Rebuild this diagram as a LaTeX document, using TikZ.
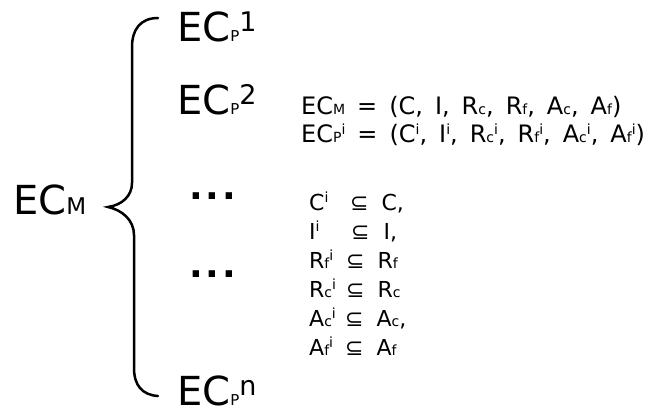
\documentclass[tikz,border=0pt]{standalone}
\usepackage{fontspec}
\setmainfont{DejaVu Sans}
% size helpers: small letters sitting on the baseline, raised superscripts
\newcommand\fs[2]{{\fontsize{#1}{#1}\selectfont #2}}
\newcommand\lo[1]{\fs{14}{#1}}
\newcommand\hi[1]{\raisebox{8pt}{\fs{14}{#1}}}
\newcommand\biglo[1]{\fs{15}{#1}}
\newcommand\bighi[1]{\raisebox{10pt}{\fs{27}{#1}}}
\newcommand\widespaces{\spaceskip=12pt\relax}
% left-hand side of a subset line, padded to a fixed width
\newcommand\lhs[2]{\makebox[#1][l]{#2}}
\tikzset{
  big/.style={anchor=base west, inner sep=0pt, font=\fontsize{40}{40}\selectfont},
  eq/.style={anchor=base west, inner sep=0pt, font=\fontsize{24}{24}\selectfont\widespaces},
  rel/.style={anchor=base west, inner sep=0pt, font=\fontsize{22}{22}\selectfont},
  dots/.style={anchor=base west, inner sep=0pt, font=\fontsize{36}{36}\selectfont\bfseries},
  brace/.style={line width=2.5pt, line cap=round},
}
\begin{document}
\begin{tikzpicture}[x=1pt, y=-1pt]
  \useasboundingbox (0,0) rectangle (664,410);

  % whole model on the left
  \node[big] (ecm) at (13,214) {EC\fs{23}{M}};

  % curly brace opening towards the parts
  \draw[brace] (158,18) .. controls (140,18) and (132,30) .. (132,47)
    -- (132,183) .. controls (132,196) and (122,205) .. (108,207)
    .. controls (122,210) and (134,220) .. (134,235)
    -- (134,368) .. controls (134,385) and (142,395) .. (158,396);

  % the parts
  \node[big] (p1) at (177,41) {EC\biglo{P}\bighi{1}};
  \node[big] (p2) at (177,114) {EC\biglo{P}\bighi{2}};
  \node[dots] (d1) at (189,199) {.\hspace{3pt}.\hspace{3pt}.};
  \node[dots] (d2) at (189,277) {.\hspace{3pt}.\hspace{3pt}.};
  \node[big] (pn) at (177,405) {EC\biglo{P}\bighi{n}};

  % tuple definitions
  \node[eq] (t1) at (301,114) {EC\lo{M} = (C, I, R\lo{c}, R\lo{f}, A\lo{c}, A\lo{f})};
  \node[eq] (t2) at (301,142) {EC\lo{P}\hi{i} = (C\hi{i}, I\hi{i}, R\lo{c}\hi{i}, R\lo{f}\hi{i}, A\lo{c}\hi{i}, A\lo{f}\hi{i})};

  % subset relations
  \node[rel] (s1) at (309,210) {\lhs{41pt}{C\hi{i}}⊆\hspace{13pt}C,};
  \node[rel] (s2) at (309,239) {\lhs{42pt}{I\hi{i}}⊆\hspace{14pt}I,};
  \node[rel] (s3) at (309,268) {\lhs{37pt}{R\lo{f}\hi{i}}⊆\hspace{13pt}R\lo{f}};
  \node[rel] (s4) at (309,297) {\lhs{37pt}{R\lo{c}\hi{i}}⊆\hspace{13pt}R\lo{c}};
  \node[rel] (s5) at (309,326) {\lhs{36pt}{A\lo{c}\hi{i}}⊆\hspace{13pt}A\lo{c},};
  \node[rel] (s6) at (309,355) {\lhs{36pt}{A\lo{f}\hi{i}}⊆\hspace{13pt}A\lo{f}};
\end{tikzpicture}
\end{document}
